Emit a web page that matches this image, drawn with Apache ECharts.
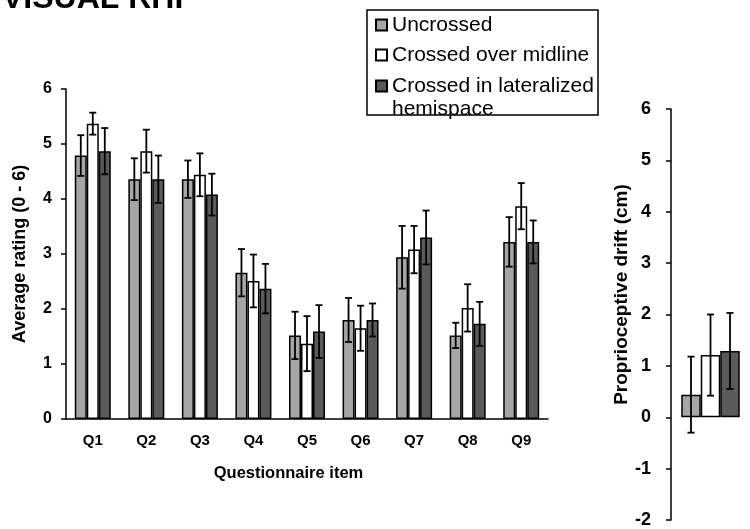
<!DOCTYPE html>
<html>
<head>
<meta charset="utf-8">
<script src="https://cdn.jsdelivr.net/npm/echarts@6/dist/echarts.min.js"></script>
<style>html,body{margin:0;padding:0;background:#fff}#c{width:750px;height:529px}</style>
</head>
<body>
<div id="c"></div>
<script>
const categories = ['Q1','Q2','Q3','Q4','Q5','Q6','Q7','Q8','Q9'];
const seriesNames = ['Uncrossed','Crossed over midline','Crossed in lateralized hemispace'];
const uncrossed = [4.79, 4.36, 4.36, 2.66, 1.52, 1.80, 2.94, 1.52, 3.22];
const uncrossedErr = [0.37, 0.38, 0.34, 0.43, 0.43, 0.40, 0.57, 0.23, 0.45];
const crossedMid = [5.37, 4.87, 4.44, 2.51, 1.37, 1.65, 3.08, 2.02, 3.87];
const crossedMidErr = [0.20, 0.39, 0.39, 0.48, 0.50, 0.41, 0.43, 0.43, 0.42];
const crossedLat = [4.87, 4.36, 4.08, 2.37, 1.59, 1.80, 3.30, 1.73, 3.22];
const crossedLatErr = [0.42, 0.43, 0.38, 0.45, 0.48, 0.30, 0.49, 0.40, 0.39];
const driftCategory = ['Visual RHI'];
const driftUncrossed = [0.44];
const driftUncrossedErr = [0.74];
const driftCrossedMid = [1.21];
const driftCrossedMidErr = [0.79];
const driftCrossedLat = [1.29];
const driftCrossedLatErr = [0.74];
const ratingTicks = {min: 0, max: 6, interval: 1};
const driftTicks = {min: -2, max: 6, interval: 1};

const FONT = '"Liberation Sans", Arial, sans-serif';
const fills = ['#a6a6a6', '#ffffff', '#5a5a5a'];

function errRenderer(offset) {
  return function (params, api) {
    const i = api.value(0), v = api.value(1), e = api.value(2);
    const top = api.coord([i, v + e]);
    const bot = api.coord([i, v - e]);
    const x = top[0] + offset;
    const cap = 3.5;
    const st = {stroke: '#000', lineWidth: 1.8};
    return {type: 'group', children: [
      {type: 'line', shape: {x1: x, y1: top[1], x2: x, y2: bot[1]}, style: st},
      {type: 'line', shape: {x1: x - cap, y1: top[1], x2: x + cap, y2: top[1]}, style: st},
      {type: 'line', shape: {x1: x - cap, y1: bot[1], x2: x + cap, y2: bot[1]}, style: st}
    ]};
  };
}
function errData(vals, errs) { return vals.map((v, i) => [i, v, errs[i]]); }

const leftBW = 12, rightBW = 19.5;
const leftVals = [uncrossed, crossedMid, crossedLat];
const leftErrs = [uncrossedErr, crossedMidErr, crossedLatErr];
const rightVals = [driftUncrossed, driftCrossedMid, driftCrossedLat];
const rightErrs = [driftUncrossedErr, driftCrossedMidErr, driftCrossedLatErr];

const series = [];
for (let k = 0; k < 3; k++) {
  series.push({
    name: seriesNames[k], type: 'bar', xAxisIndex: 0, yAxisIndex: 0,
    data: leftVals[k], barWidth: leftBW, barGap: '0%',
    itemStyle: {color: fills[k], borderColor: '#000', borderWidth: 1.5},
    emphasis: {disabled: true}
  });
}
for (let k = 0; k < 3; k++) {
  series.push({
    name: seriesNames[k], type: 'bar', xAxisIndex: 1, yAxisIndex: 1,
    data: rightVals[k], barWidth: rightBW, barGap: '0%',
    itemStyle: {color: fills[k], borderColor: '#000', borderWidth: 1.5},
    emphasis: {disabled: true}
  });
}
for (let k = 0; k < 3; k++) {
  series.push({
    type: 'custom', xAxisIndex: 0, yAxisIndex: 0, z: 5,
    renderItem: errRenderer((k - 1) * leftBW),
    data: errData(leftVals[k], leftErrs[k]), silent: true
  });
  series.push({
    type: 'custom', xAxisIndex: 1, yAxisIndex: 1, z: 5,
    renderItem: errRenderer((k - 1) * rightBW),
    data: errData(rightVals[k], rightErrs[k]), silent: true
  });
}

const axisLine = {show: true, lineStyle: {color: '#000', width: 1.5}};
const legendText = {fontFamily: FONT, fontSize: 21, color: '#000', lineHeight: 23};

const option = {
  animation: false,
  backgroundColor: '#fff',
  title: {
    text: 'VISUAL RHI', left: 2, top: -17, padding: 0,
    textStyle: {fontFamily: FONT, fontSize: 32, fontWeight: 'bold', color: '#000'}
  },
  graphic: [{
    type: 'rect', shape: {x: 367, y: 10, width: 231, height: 105},
    style: {fill: 'none', stroke: '#000', lineWidth: 1.5}, z: 10
  }],
  legend: [{
    orient: 'vertical', left: 375, top: 13.5, padding: 0, itemGap: 7,
    itemWidth: 11, itemHeight: 11, icon: 'rect',
    itemStyle: {borderColor: '#000', borderWidth: 2},
    textStyle: legendText, selectedMode: false,
    data: [seriesNames[0], seriesNames[1]]
  }, {
    orient: 'vertical', left: 375, top: 51.5, padding: 0,
    itemWidth: 11, itemHeight: 11, icon: 'rect',
    itemStyle: {borderColor: '#000', borderWidth: 2},
    textStyle: legendText, selectedMode: false,
    formatter: function (n) { return n === seriesNames[2] ? ' \nCrossed in lateralized\nhemispace' : n; },
    data: [seriesNames[2]]
  }],
  grid: [
    {left: 66, right: 202, top: 89, bottom: 110},
    {left: 671, right: -21, top: 109, bottom: 7}
  ],
  xAxis: [{
    type: 'category', gridIndex: 0, data: categories,
    axisLine: axisLine, axisTick: {show: false},
    axisLabel: {color: '#000', fontFamily: FONT, fontWeight: 'bold', fontSize: 15, margin: 14},
    name: 'Questionnaire item', nameLocation: 'middle', nameGap: 46,
    nameTextStyle: {color: '#000', fontFamily: FONT, fontWeight: 'bold', fontSize: 16.5, padding: [0, 37, 0, 0]}
  }, {
    type: 'category', gridIndex: 1, data: driftCategory,
    axisLine: {show: false}, axisTick: {show: false}, axisLabel: {show: false}
  }],
  yAxis: [{
    type: 'value', gridIndex: 0, min: ratingTicks.min, max: ratingTicks.max, interval: ratingTicks.interval,
    axisLine: axisLine, axisTick: {show: true, length: 5, lineStyle: {color: '#000', width: 1.5}},
    splitLine: {show: false},
    axisLabel: {color: '#000', fontFamily: FONT, fontWeight: 'bold', fontSize: 16, margin: 14},
    name: 'Average rating (0 - 6)', nameLocation: 'middle', nameGap: 37,
    nameTextStyle: {color: '#000', fontFamily: FONT, fontWeight: 'bold', fontSize: 18}
  }, {
    type: 'value', gridIndex: 1, min: driftTicks.min, max: driftTicks.max, interval: driftTicks.interval,
    axisLine: axisLine, axisTick: {show: true, length: 5, lineStyle: {color: '#000', width: 1.5}},
    splitLine: {show: false},
    axisLabel: {color: '#000', fontFamily: FONT, fontWeight: 'bold', fontSize: 18, margin: 20},
    name: 'Proprioceptive drift (cm)', nameLocation: 'middle', nameGap: 37,
    nameTextStyle: {color: '#000', fontFamily: FONT, fontWeight: 'bold', fontSize: 19, padding: [0, 0, 0, 40]}
  }],
  series: series
};
echarts.init(document.getElementById('c'), null, {renderer: 'canvas'}).setOption(option);
</script>
</body>
</html>
